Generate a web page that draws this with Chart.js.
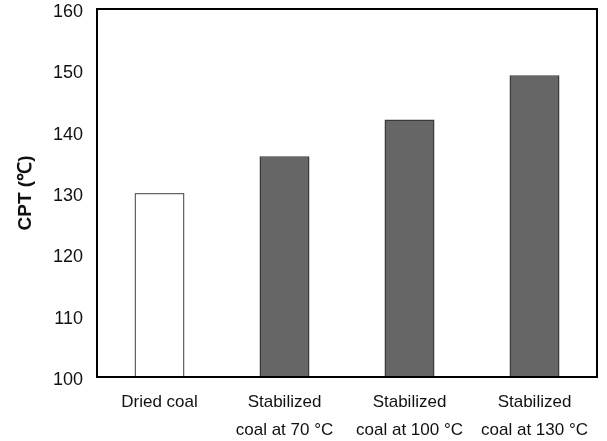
<!DOCTYPE html>
<html>
<head>
<meta charset="utf-8">
<script src="https://cdn.jsdelivr.net/npm/chart.js@4/dist/chart.umd.min.js"></script>
<style>
  html, body { margin: 0; padding: 0; background: #ffffff; }
  #wrap { width: 607px; height: 441px; }
</style>
</head>
<body>
<div id="wrap"><canvas id="c" width="607" height="441"></canvas></div>
<script>
// Coal samples and their crossing-point temperature (CPT, °C)
const categories = [
  ['Dried coal'],
  ['Stabilized', 'coal at 70 °C'],
  ['Stabilized', 'coal at 100 °C'],
  ['Stabilized', 'coal at 130 °C']
];
const cptValues = [130, 136, 142, 149.2];
const yTicks = [100, 110, 120, 130, 140, 150, 160];

const fillColors = ['#ffffff', '#666666', '#666666', '#666666'];
const edgeColors = ['#666666', '#3a3a3a', '#3a3a3a', '#3a3a3a'];

// Black frame around the plot area
const frame = {
  id: 'frame',
  afterDatasetsDraw(chart) {
    const a = chart.chartArea;
    const ctx = chart.ctx;
    ctx.save();
    ctx.strokeStyle = '#000000';
    ctx.lineWidth = 2;
    ctx.strokeRect(a.left, a.top, a.right - a.left, a.bottom - a.top);
    ctx.restore();
  }
};

new Chart(document.getElementById('c'), {
  type: 'bar',
  data: {
    labels: categories,
    datasets: [{
      data: cptValues,
      backgroundColor: fillColors,
      borderColor: edgeColors,
      borderWidth: 1.5,
      categoryPercentage: 1,
      barPercentage: 0.4
    }]
  },
  options: {
    responsive: false,
    animation: false,
    devicePixelRatio: 1,
    layout: { padding: { top: 9, right: 10, bottom: 0, left: 0 } },
    plugins: {
      legend: { display: false },
      tooltip: { enabled: false }
    },
    scales: {
      x: {
        grid: { display: false, drawTicks: false },
        border: { display: false },
        ticks: {
          color: '#111111',
          padding: 11,
          maxRotation: 0,
          autoSkip: false,
          font: { family: 'Liberation Sans, Arial, sans-serif', size: 17, lineHeight: 1.65 }
        },
        afterFit(scale) {
          scale.height = 64;
          scale.paddingLeft = 0;
          scale.paddingRight = 0;
        }
      },
      y: {
        min: 100,
        max: 160,
        afterBuildTicks(scale) { scale.ticks = yTicks.map(v => ({ value: v })); },
        grid: { display: false, drawTicks: false },
        border: { display: false },
        ticks: {
          color: '#111111',
          padding: 14,
          labelOffset: 3,
          font: { family: 'Liberation Sans, Arial, sans-serif', size: 18 }
        },
        title: {
          display: true,
          text: 'CPT (℃)',
          color: '#111111',
          padding: { top: 14, bottom: 0 },
          font: { family: 'Liberation Sans, Arial, sans-serif', size: 19, weight: 'bold' }
        },
        afterFit(scale) {
          scale.width = 97;
          scale.paddingTop = 0;
          scale.paddingBottom = 0;
        }
      }
    }
  },
  plugins: [frame]
});
</script>
</body>
</html>
